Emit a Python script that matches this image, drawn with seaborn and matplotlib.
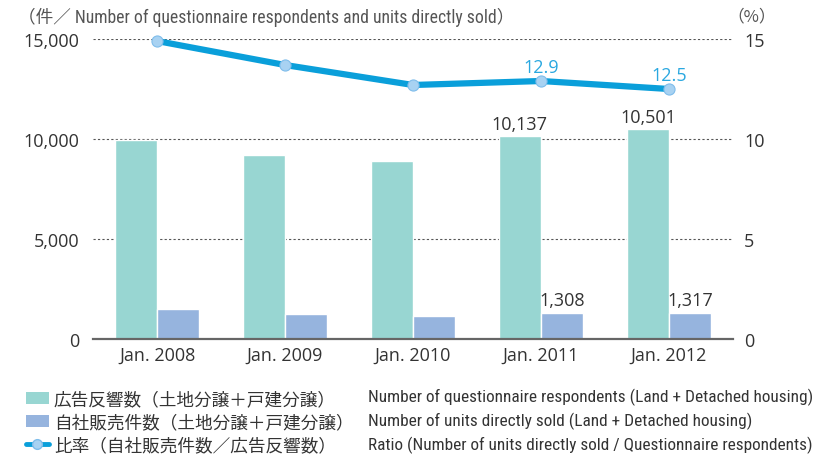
import matplotlib
matplotlib.use("Agg")
import matplotlib.pyplot as plt
import seaborn as sns
import numpy as np
import pandas as pd
from matplotlib.patches import Patch
from matplotlib.lines import Line2D

categories = ["Jan. 2008", "Jan. 2009", "Jan. 2010", "Jan. 2011", "Jan. 2012"]
respondents = [9950, 9200, 8900, 10137, 10501]
units_sold = [1500, 1250, 1150, 1308, 1317]
ratio = [14.9, 13.7, 12.7, 12.9, 12.5]
left_ticks = [0, 5000, 10000, 15000]
right_ticks = [0, 5, 10, 15]
series_jp = ["広告反響数（土地分譲＋戸建分譲）", "自社販売件数（土地分譲＋戸建分譲）", "比率（自社販売件数／広告反響数）"]
series_en = ["Number of questionnaire respondents (Land + Detached housing)",
             "Number of units directly sold (Land + Detached housing)",
             "Ratio (Number of units directly sold / Questionnaire respondents)"]

TEAL = "#98D6D2"
BLUE = "#96B4DE"
LINE = "#0A9FDA"
TXT = "#333333"
NUMF = ["Open Sans", "DejaVu Sans"]
JPF = ["Noto Sans CJK JP", "DejaVu Sans"]
ENF = ["Roboto Condensed", "Fira Sans Condensed", "Barlow Semi Condensed", "Liberation Sans", "DejaVu Sans"]

sns.set_theme(style="white")
plt.rcParams["font.family"] = NUMF

df = pd.DataFrame({
    "cat": categories * 2,
    "series": ["resp"] * len(categories) + ["units"] * len(categories),
    "value": respondents + units_sold,
})

fig = plt.figure(figsize=(8.34, 4.6), dpi=100)
ax = fig.add_axes([93 / 834, 1 - 340 / 460, 640 / 834, 300 / 460])
sns.barplot(data=df, x="cat", y="value", hue="series", palette=[TEAL, BLUE],
            saturation=1, width=0.66, gap=0, ax=ax, legend=False, zorder=2)
ax.set_xlim(-0.5, len(categories) - 0.5)
ax.set_ylim(0, 15000)
ax.set_yticks(left_ticks)
ax.set_yticklabels([f"{v:,}" for v in left_ticks], fontsize=13, color=TXT, family=NUMF)
ax.set_xticks(range(len(categories)))
ax.set_xticklabels(categories, fontsize=13, color=TXT, family=NUMF)
ax.set_xlabel("")
ax.set_ylabel("")
ax.tick_params(axis="both", length=0)
ax.tick_params(axis="y", pad=10)
ax.tick_params(axis="x", pad=5)
for s in ["top", "right", "left"]:
    ax.spines[s].set_visible(False)
ax.spines["bottom"].set_color("#666666")
ax.spines["bottom"].set_linewidth(1.6)
ax.spines["bottom"].set_zorder(3)
ax.yaxis.grid(True, linestyle=(0, (2, 2)), color="#555555", linewidth=0.8, zorder=0)
ax.set_axisbelow(True)

# bar value labels
bw = 0.33
for i in (3, 4):
    ax.text(i - bw / 2, respondents[i] + 170, f"{respondents[i]:,}", ha="center", va="bottom",
            fontsize=13, color=TXT, family=NUMF)
    ax.text(i + bw / 2, units_sold[i] + 170, f"{units_sold[i]:,}", ha="center", va="bottom",
            fontsize=13, color=TXT, family=NUMF)

ax2 = ax.twinx()
ax2.set_ylim(0, 15)
xs = np.arange(len(categories))
sns.lineplot(x=xs, y=ratio, ax=ax2, color=LINE, linewidth=4.5, marker="o",
             markersize=8, markerfacecolor="#A8D2F2", markeredgecolor="#7FBDEB",
             markeredgewidth=0.8, clip_on=False, zorder=5)
ax2.set_yticks(right_ticks)
ax2.set_yticklabels([str(v) for v in right_ticks], fontsize=13, color=TXT, family=NUMF)
ax2.tick_params(axis="y", length=0, pad=8)
for s in ["top", "right", "left", "bottom"]:
    ax2.spines[s].set_visible(False)
ax2.set_xlim(-0.5, len(categories) - 0.5)
for i in (3, 4):
    ax2.text(xs[i], ratio[i] + 0.25, f"{ratio[i]}", ha="center", va="bottom",
             fontsize=13, color="#2AA8E0", family=NUMF)

# header texts
fig.text(18 / 834, 1 - 17 / 460, "（件／ Number of questionnaire respondents and units directly sold）",
         ha="left", va="center", fontsize=12.7, color="#555555", family=ENF[:3] + JPF)
fig.text(752 / 834, 1 - 17 / 460, "（%）", ha="center", va="center", fontsize=12,
         color="#555555", family=JPF)

# legend
handles = [Patch(facecolor=TEAL, edgecolor="none"),
           Patch(facecolor=BLUE, edgecolor="none"),
           Line2D([0], [0], color=LINE, linewidth=3.5, marker="o", markersize=7,
                  markerfacecolor="#A8D2F2", markeredgecolor="#7FBDEB")]
leg = fig.legend(handles, series_jp, loc="upper left", bbox_to_anchor=(26 / 834, 1 - 391 / 460),
                 frameon=False, prop={"family": JPF, "size": 12.7}, labelcolor=TXT,
                 handlelength=1.3, handleheight=0.68, handletextpad=0.28, labelspacing=0.3,
                 borderpad=0, borderaxespad=0)
for k, t in enumerate(series_en):
    fig.text(368 / 834, 1 - (397 + 24 * k) / 460, t, ha="left", va="center",
             fontsize=12.4, color=TXT, family=ENF)

fig.savefig("out.png", dpi=100)
